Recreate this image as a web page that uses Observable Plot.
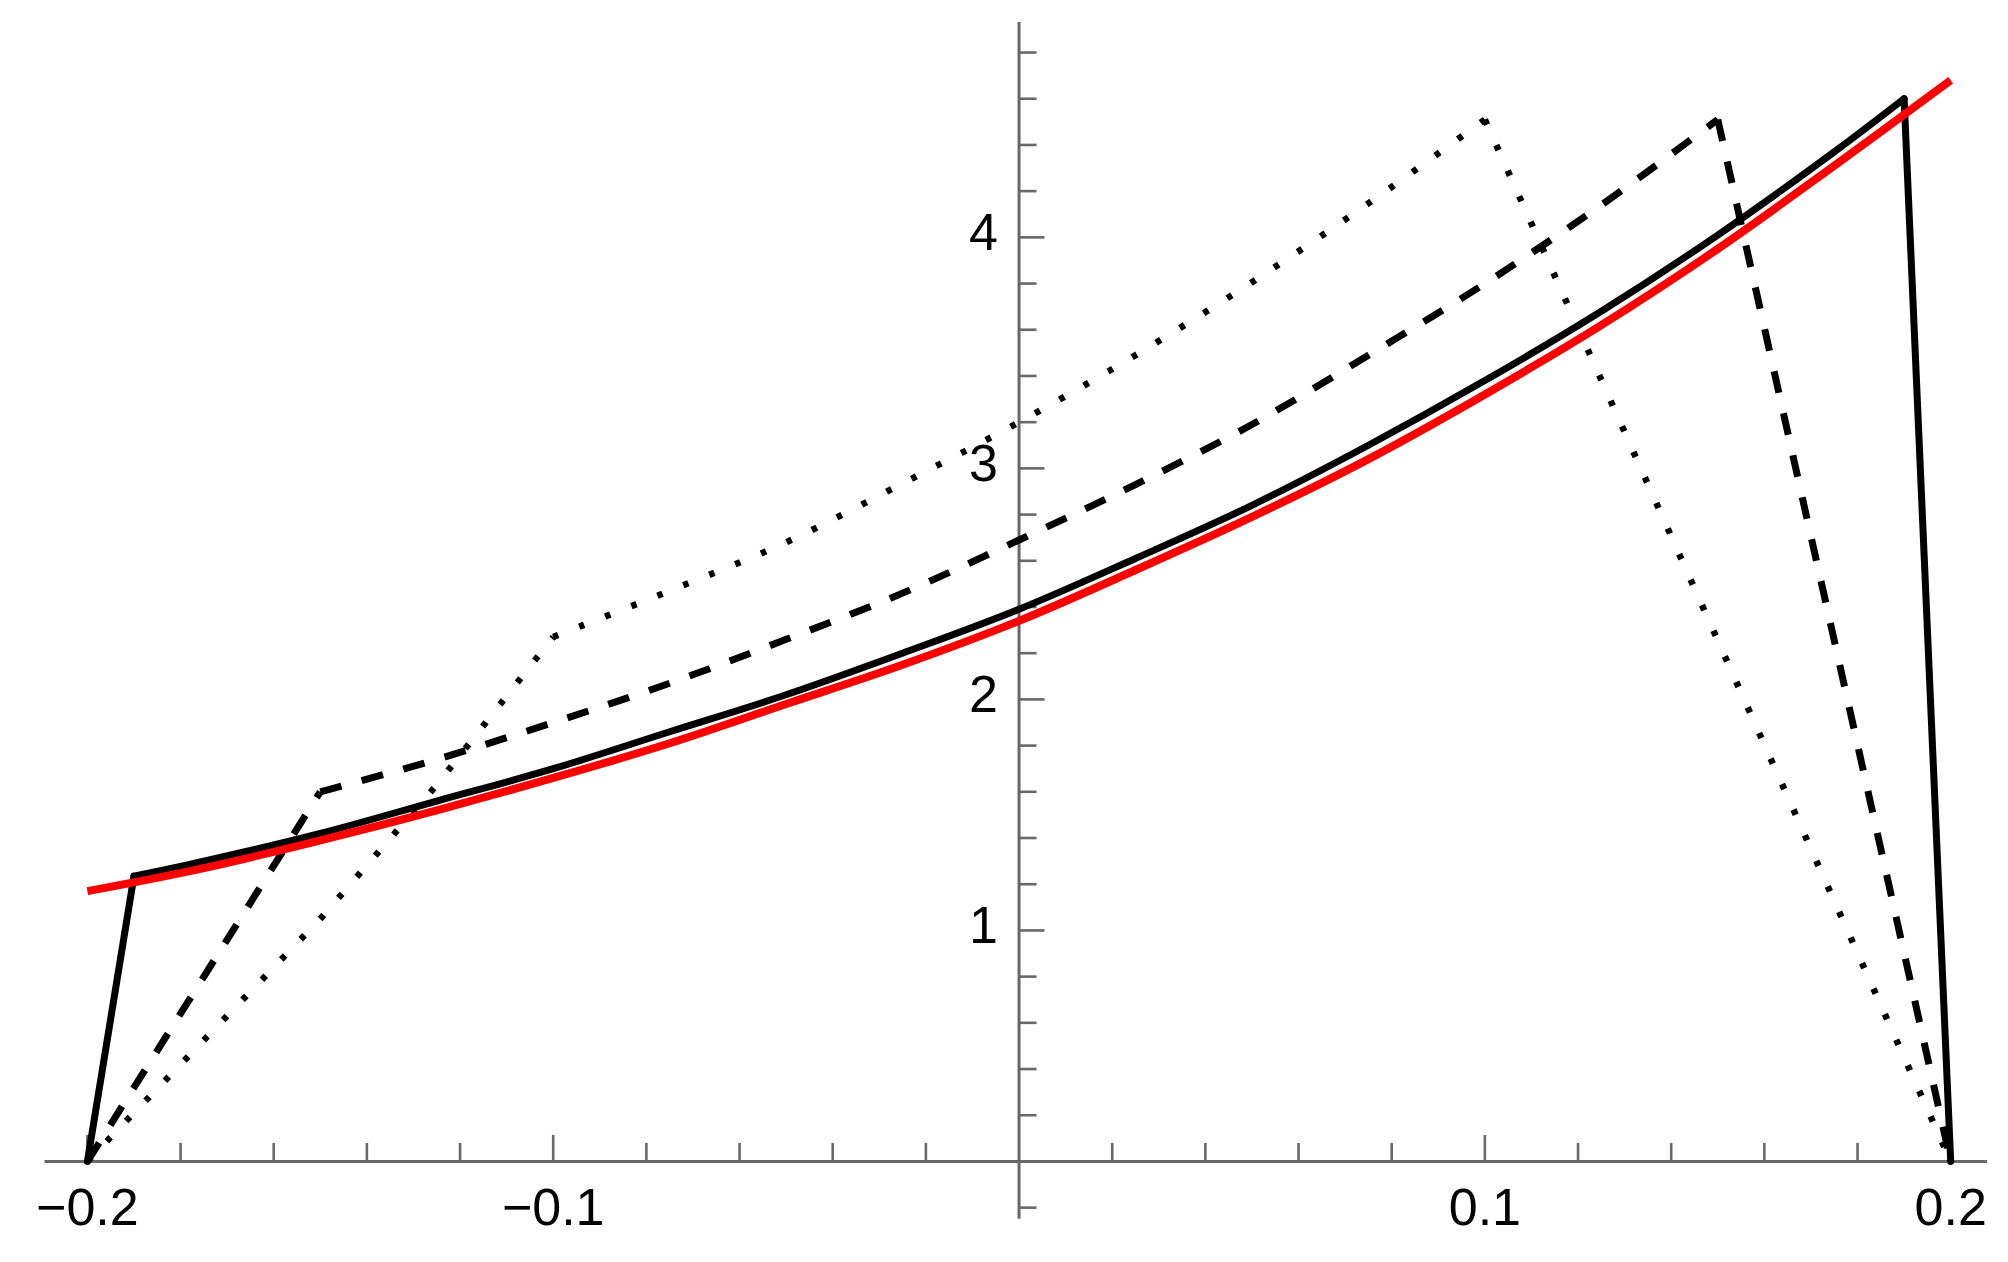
<!DOCTYPE html>
<html>
<head>
<meta charset="utf-8">
<script src="https://cdn.jsdelivr.net/npm/d3@7"></script>
<script src="https://cdn.jsdelivr.net/npm/@observablehq/plot@0.6"></script>
<style>
  html, body { margin: 0; padding: 0; background: #ffffff; }
  #chart svg { display: block; }
</style>
</head>
<body>
<div id="chart"></div>
<script>
// ---- axis extents (data units) ----
const axisXExtent = [-0.2091, 0.2079];
const axisYExtent = [-0.25, 4.93];

// ---- ticks ----
const xTickMajor = [-0.2, -0.1, 0.1, 0.2];
const xTickMinor = [-0.18, -0.16, -0.14, -0.12, -0.08, -0.06, -0.04, -0.02,
                    0.02, 0.04, 0.06, 0.08, 0.12, 0.14, 0.16, 0.18];
const xTickLabels = ["\u22120.2", "\u22120.1", "0.1", "0.2"];
const yTickMajor = [1, 2, 3, 4];
const yTickMinor = [-0.2, 0.2, 0.4, 0.6, 0.8, 1.2, 1.4, 1.6, 1.8, 2.2, 2.4, 2.6, 2.8,
                    3.2, 3.4, 3.6, 3.8, 4.2, 4.4, 4.6, 4.8];
const yTickLabels = ["1", "2", "3", "4"];

// ---- series ----
// red smooth curve
const redX = [-0.2, -0.175, -0.15, -0.125, -0.1, -0.075, -0.05, -0.025, 0,
              0.025, 0.05, 0.075, 0.1, 0.125, 0.15, 0.175, 0.2];
const redY = [1.17, 1.27, 1.39, 1.52, 1.66, 1.81, 1.98, 2.15, 2.34,
              2.56, 2.79, 3.04, 3.32, 3.62, 3.95, 4.31, 4.68];
// solid black
const solidX = [-0.2, -0.19, -0.175, -0.15, -0.125, -0.1, -0.075, -0.05, -0.025, 0,
                0.025, 0.05, 0.075, 0.1, 0.125, 0.15, 0.175, 0.19, 0.2];
const solidY = [0, 1.235, 1.30, 1.42, 1.56, 1.70, 1.86, 2.02, 2.20, 2.39,
                2.61, 2.84, 3.10, 3.38, 3.68, 4.01, 4.37, 4.60, 0];
const solidCorners = [1, 17];
// dashed black
const dashedX = [-0.2, -0.15, -0.125, -0.1, -0.075, -0.05, -0.025, 0,
                 0.025, 0.05, 0.075, 0.1, 0.125, 0.15, 0.2];
const dashedY = [0, 1.60, 1.74, 1.90, 2.07, 2.26, 2.46, 2.69,
                 2.93, 3.19, 3.49, 3.80, 4.14, 4.51, 0];
const dashedCorners = [1, 13];
// dotted black
const dottedX = [-0.2, -0.15, -0.125, -0.1, -0.075, -0.05, -0.025, 0, 0.025, 0.05, 0.075, 0.1, 0.2];
const dottedY = [0, 1.05, 1.63, 2.27, 2.47, 2.68, 2.935, 3.20, 3.49, 3.806, 4.147, 4.51, 0];
const dottedCorners = [3, 11];

const toPts = (xs, ys) => xs.map((x, i) => ({x, y: ys[i]}));
// split a series at its corners: straight ramps outside, smooth curve between
function pieces(xs, ys, [a, b]) {
  const p = toPts(xs, ys);
  return {left: p.slice(0, a + 1), mid: p.slice(a, b + 1), right: p.slice(b)};
}
const red = toPts(redX, redY);
const solid = pieces(solidX, solidY, solidCorners);
const dashed = pieces(dashedX, dashedY, dashedCorners);
const dotted = pieces(dottedX, dottedY, dottedCorners);
const xLab = xTickMajor.map((v, i) => ({v, t: xTickLabels[i]}));
const yLab = yTickMajor.map((v, i) => ({v, t: yTickLabels[i]}));

const axisColor = "#686868";
const font = "'Liberation Sans', Arial, Helvetica, sans-serif";

function seriesMarks(s, style) {
  return [
    Plot.line(s.left, {x: "x", y: "y", curve: "linear", ...style}),
    Plot.line(s.mid, {x: "x", y: "y", curve: "catmull-rom", ...style}),
    Plot.line(s.right, {x: "x", y: "y", curve: "linear", ...style})
  ];
}

const solidStyle = {stroke: "#000", strokeWidth: 7, strokeLinecap: "round", strokeLinejoin: "round"};
const dashedStyle = {stroke: "#000", strokeWidth: 7, strokeDasharray: "22,21", strokeLinecap: "butt", strokeLinejoin: "round"};
const dottedStyle = {stroke: "#000", strokeWidth: 6.5, strokeDasharray: "5.5,22.5", strokeLinecap: "butt", strokeLinejoin: "round"};

const chart = Plot.plot({
  width: 2008,
  height: 1262,
  marginLeft: 44.5,
  marginRight: 21,
  marginTop: 22,
  marginBottom: 43.3,
  style: {background: "#ffffff", fontFamily: font},
  x: {domain: axisXExtent, axis: null},
  y: {domain: axisYExtent, axis: null},
  marks: [
    // axis lines through origin
    Plot.ruleY([0], {x1: axisXExtent[0], x2: axisXExtent[1], stroke: axisColor, strokeWidth: 3}),
    Plot.ruleX([0], {y1: axisYExtent[0], y2: axisYExtent[1], stroke: axisColor, strokeWidth: 3}),
    // x ticks (pointing up)
    Plot.ruleX(xTickMinor, {x: d => d, y1: 0, y2: 0, insetTop: -18, insetBottom: 0, stroke: axisColor, strokeWidth: 2.6}),
    Plot.ruleX(xTickMajor, {x: d => d, y1: 0, y2: 0, insetTop: -26, insetBottom: 0, stroke: axisColor, strokeWidth: 2.6}),
    // y ticks (pointing right)
    Plot.ruleY(yTickMinor, {y: d => d, x1: 0, x2: 0, insetLeft: 0, insetRight: -18, stroke: axisColor, strokeWidth: 2.6}),
    Plot.ruleY(yTickMajor, {y: d => d, x1: 0, x2: 0, insetLeft: 0, insetRight: -26, stroke: axisColor, strokeWidth: 2.6}),
    // tick labels
    Plot.text(xLab, {x: "v", y: 0, text: "t", dy: 47, fontSize: 52, fill: "#000", fontFamily: font}),
    Plot.text(yLab, {x: 0, y: "v", text: "t", dx: -21, dy: -4, textAnchor: "end", fontSize: 52, fill: "#000", fontFamily: font}),
    // curves
    ...seriesMarks(dotted, dottedStyle),
    ...seriesMarks(dashed, dashedStyle),
    ...seriesMarks(solid, solidStyle),
    Plot.line(red, {x: "x", y: "y", curve: "catmull-rom", stroke: "#ff0000", strokeWidth: 8, strokeLinecap: "butt", strokeLinejoin: "round"})
  ]
});
document.getElementById("chart").appendChild(chart);
</script>
</body>
</html>
